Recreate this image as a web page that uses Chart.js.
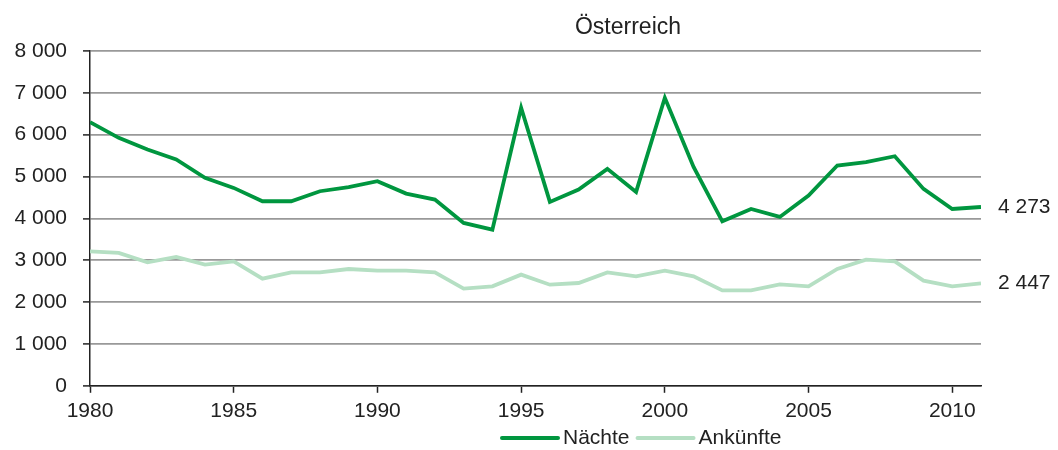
<!DOCTYPE html>
<html>
<head>
<meta charset="utf-8">
<script src="https://cdn.jsdelivr.net/npm/chart.js@4"></script>
<style>
html,body{margin:0;padding:0;background:#fff;}
#wrap{width:1058px;height:450px;position:relative;}
</style>
</head>
<body>
<div id="wrap"><canvas id="c" width="1058" height="450"></canvas></div>
<script>
const titleText = "Österreich";
const years = [1980,1981,1982,1983,1984,1985,1986,1987,1988,1989,1990,1991,1992,1993,1994,1995,1996,1997,1998,1999,2000,2001,2002,2003,2004,2005,2006,2007,2008,2009,2010,2011];
const naechte = [6300,5925,5646,5407,4968,4729,4410,4410,4649,4745,4888,4593,4450,3892,3732,6643,4394,4689,5183,4633,6882,5231,3931,4226,4035,4545,5263,5343,5486,4705,4226,4273];
const ankuenfte = [3214,3174,2950,3078,2895,2974,2560,2711,2711,2791,2751,2751,2711,2321,2376,2656,2416,2456,2711,2616,2751,2616,2281,2281,2424,2376,2791,3014,2974,2512,2376,2447];
const seriesNames = ["Nächte","Ankünfte"];
const seriesColors = ["#00963f","#b5dfc3"];
const yTicks = [0,1000,2000,3000,4000,5000,6000,7000,8000];
const xTickStep = 5;

const fmt = v => String(v).replace(/\B(?=(\d{3})+(?!\d))/g, ' ');
const FONT = "Liberation Sans, Arial, sans-serif";

const pts = arr => arr.map((v,i)=>({x:years[i], y:v}));

const extras = {
  id:'extras',
  afterDraw(chart){
    const ctx = chart.ctx;
    ctx.save();
    ctx.fillStyle = '#222';
    // title
    ctx.font = '23px ' + FONT;
    ctx.textAlign = 'center';
    ctx.textBaseline = 'alphabetic';
    ctx.fillText(titleText, 628, 34);
    // end labels
    ctx.font = '21px ' + FONT;
    ctx.textAlign = 'left';
    ctx.textBaseline = 'middle';
    chart.data.datasets.forEach((ds, di) => {
      const meta = chart.getDatasetMeta(di);
      const last = meta.data[meta.data.length-1];
      ctx.fillText(fmt(ds.data[ds.data.length-1].y), last.x + 17, last.y);
    });
    // legend
    ctx.font = '21px ' + FONT;
    ctx.textBaseline = 'middle';
    const ly = 438;
    let x = 502;
    chart.data.datasets.forEach((ds) => {
      ctx.strokeStyle = ds.borderColor;
      ctx.lineWidth = 4;
      ctx.lineCap = 'round';
      ctx.beginPath();
      ctx.moveTo(x, ly);
      ctx.lineTo(x + 56, ly);
      ctx.stroke();
      ctx.fillText(ds.label, x + 61, ly);
      x += 61 + ctx.measureText(ds.label).width + 8;
    });
    ctx.restore();
  }
};

new Chart(document.getElementById('c'), {
  type: 'line',
  data: {
    datasets: [
      {label: seriesNames[0], data: pts(naechte), borderColor: seriesColors[0], backgroundColor: seriesColors[0], borderWidth: 3.8, pointRadius: 0, tension: 0},
      {label: seriesNames[1], data: pts(ankuenfte), borderColor: seriesColors[1], backgroundColor: seriesColors[1], borderWidth: 3.8, pointRadius: 0, tension: 0}
    ]
  },
  options: {
    responsive: false,
    animation: false,
    devicePixelRatio: 1,
    layout: {padding: {top: 51, right: 77, bottom: 20, left: 2}},
    plugins: {legend: {display: false}, title: {display: false}, tooltip: {enabled: false}},
    scales: {
      x: {
        type: 'linear',
        min: years[0], max: years[years.length-1],
        ticks: {stepSize: xTickStep, includeBounds: false, color: '#222', font: {family: FONT, size: 21}, padding: 6, maxRotation: 0, callback: v => String(v)},
        grid: {drawOnChartArea: false, drawTicks: true, tickLength: 7, tickColor: '#222', tickWidth: 1.5},
        border: {display: true, color: '#222', width: 1.5}
      },
      y: {
        min: 0, max: 8000,
        afterBuildTicks: s => { s.ticks = yTicks.map(v => ({value: v})); },
        afterFit: s => { s.width = 88; },
        ticks: {color: '#222', font: {family: FONT, size: 21}, padding: 16, callback: v => fmt(v)},
        grid: {color: '#999', lineWidth: 1.8, drawTicks: true, tickLength: 7, tickColor: '#222', tickWidth: 1.5},
        border: {display: true, color: '#222', width: 1.5}
      }
    }
  },
  plugins: [extras]
});
</script>
</body>
</html>
